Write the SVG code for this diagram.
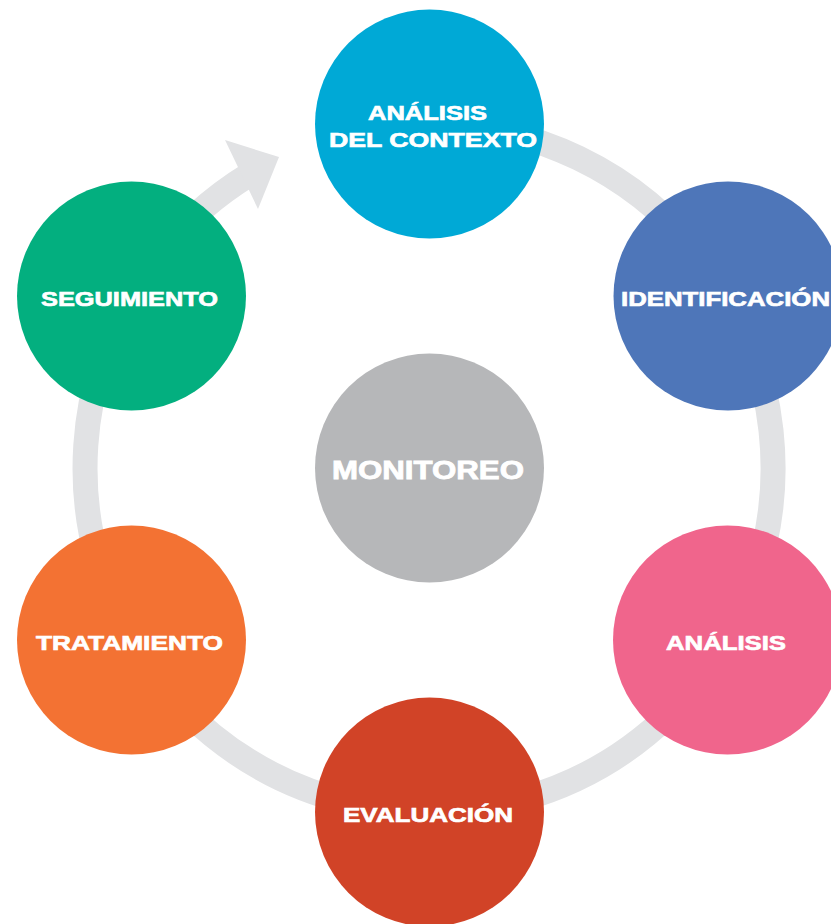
<svg xmlns="http://www.w3.org/2000/svg" width="831" height="924" viewBox="0 0 831 924">
<style>
.lbl{font-family:"Liberation Sans",Arial,sans-serif;font-weight:bold;font-size:21px;fill:#ffffff;stroke:#ffffff;stroke-width:0.7;text-anchor:middle}
.big{font-size:25px;stroke-width:0.8}
.ring{fill:none;stroke:#E1E2E4;stroke-width:25}
</style>
<rect width="831" height="924" fill="#ffffff"/>
<g id="connectors">
<path class="ring" d="M 429 124 A 344 344 0 1 1 249.3 174.7"/>
<polygon points="279,157 225,140 258,209" fill="#E1E2E4"/>
</g>
<g id="analisis-contexto">
<circle cx="429.5" cy="124" r="114.5" fill="#00A9D6"/>
<text class="lbl" x="427.5" y="120" textLength="119" lengthAdjust="spacingAndGlyphs">ANÁLISIS</text>
<text class="lbl" x="433" y="147" textLength="208" lengthAdjust="spacingAndGlyphs">DEL CONTEXTO</text>
</g>
<g id="identificacion">
<circle cx="728" cy="296" r="114.5" fill="#4E76B9"/>
<text class="lbl" x="725.5" y="306" textLength="209" lengthAdjust="spacingAndGlyphs">IDENTIFICACIÓN</text>
</g>
<g id="analisis">
<circle cx="727.5" cy="640" r="114.5" fill="#F0658C"/>
<text class="lbl" x="726" y="650" textLength="120" lengthAdjust="spacingAndGlyphs">ANÁLISIS</text>
</g>
<g id="evaluacion">
<circle cx="429.5" cy="812" r="114.5" fill="#D14327"/>
<text class="lbl" x="428" y="822" textLength="170" lengthAdjust="spacingAndGlyphs">EVALUACIÓN</text>
</g>
<g id="tratamiento">
<circle cx="131.5" cy="640" r="114.5" fill="#F37233"/>
<text class="lbl" x="129.5" y="650" textLength="187" lengthAdjust="spacingAndGlyphs">TRATAMIENTO</text>
</g>
<g id="seguimiento">
<circle cx="131.5" cy="296" r="114.5" fill="#03AF7F"/>
<text class="lbl" x="129.5" y="306" textLength="177" lengthAdjust="spacingAndGlyphs">SEGUIMIENTO</text>
</g>
<g id="monitoreo">
<circle cx="429.5" cy="468" r="114.5" fill="#B6B7B9"/>
<text class="lbl big" x="428" y="479" textLength="192" lengthAdjust="spacingAndGlyphs">MONITOREO</text>
</g>
</svg>
